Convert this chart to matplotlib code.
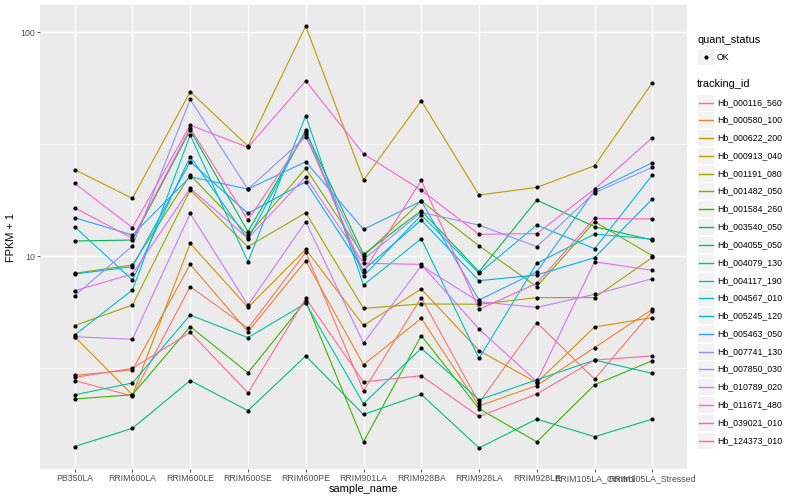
import numpy as np
import matplotlib
matplotlib.use('Agg')
import matplotlib.pyplot as plt
from matplotlib.lines import Line2D
from matplotlib.patches import Rectangle

SAMPLES = ['PB350LA', 'RRIM600LA', 'RRIM600LE', 'RRIM600SE', 'RRIM600PE', 'RRIM901LA',
           'RRIM928BA', 'RRIM928LA', 'RRIM928LE', 'RRIM105LA_Control', 'RRIM105LA_Stressed']

TRACKING_IDS = ['Hb_000116_560', 'Hb_000580_100', 'Hb_000622_200', 'Hb_000913_040', 'Hb_001191_080',
                'Hb_001482_050', 'Hb_001584_260', 'Hb_003540_050', 'Hb_004055_050', 'Hb_004079_130',
                'Hb_004117_190', 'Hb_004567_010', 'Hb_005245_120', 'Hb_005463_050', 'Hb_007741_130',
                'Hb_007850_030', 'Hb_010789_020', 'Hb_011671_480', 'Hb_039021_010', 'Hb_124373_010']

# FPKM + 1, one list per gene, in SAMPLES order
hb_000116_560 = [2.78, 2.37, 7.30, 4.76, 10.38, 2.50, 6.52, 2.21, 5.04, 2.82, 5.68]
hb_000580_100 = [2.93, 3.10, 9.18, 4.59, 9.53, 3.27, 5.27, 2.14, 2.64, 3.90, 5.78]
hb_000622_200 = [4.36, 2.40, 11.39, 5.90, 10.71, 4.90, 7.12, 3.78, 2.72, 4.82, 5.31]
hb_000913_040 = [24.30, 18.09, 54.15, 30.98, 106.4, 21.84, 49.36, 18.72, 20.26, 25.31, 59.39]
hb_001191_080 = [4.89, 6.04, 19.70, 11.01, 15.61, 5.84, 6.11, 6.09, 6.52, 6.52, 9.86]
hb_001482_050 = [8.37, 9.12, 22.99, 12.41, 24.62, 10.00, 17.60, 11.12, 7.30, 14.23, 10.03]
hb_001584_260 = [2.30, 2.40, 4.84, 3.01, 6.30, 1.48, 4.41, 2.08, 1.48, 2.66, 3.41]
hb_003540_050 = [11.67, 11.79, 36.52, 12.84, 35.90, 10.17, 15.94, 8.51, 17.78, 13.52, 11.79]
hb_004055_050 = [1.41, 1.70, 2.78, 2.04, 3.58, 1.96, 2.41, 1.39, 1.87, 1.56, 1.87]
hb_004079_130 = [2.40, 2.71, 5.45, 4.32, 6.15, 2.19, 3.87, 2.28, 2.80, 3.43, 2.99]
hb_004117_190 = [4.44, 7.05, 34.69, 9.43, 42.32, 7.42, 11.95, 3.49, 9.28, 12.53, 11.91]
hb_004567_010 = [13.52, 7.81, 27.77, 11.87, 36.64, 8.14, 15.24, 8.37, 13.75, 10.78, 22.99]
hb_005245_120 = [8.31, 8.96, 26.37, 15.50, 21.47, 8.66, 14.48, 7.76, 8.23, 9.83, 17.97]
hb_005463_050 = [14.83, 12.41, 22.61, 19.90, 26.37, 13.15, 17.60, 6.36, 8.51, 19.57, 26.10]
hb_007741_130 = [6.65, 11.08, 50.04, 19.90, 34.10, 9.66, 15.66, 13.75, 11.01, 19.18, 24.88]
hb_007850_030 = [4.36, 4.25, 15.50, 6.04, 14.23, 4.08, 9.05, 6.25, 5.90, 6.74, 7.92]
hb_010789_020 = [7.00, 8.31, 20.05, 11.99, 22.61, 9.28, 9.18, 4.72, 2.75, 9.43, 8.63]
hb_011671_480 = [21.1, 13.4, 38.4, 30.6, 60.6, 28.6, 19.7, 12.5, 12.6, 19.9, 33.8]
hb_039021_010 = [16.44, 11.99, 37.15, 14.48, 35.04, 8.51, 21.77, 5.78, 7.55, 14.73, 14.63]
hb_124373_010 = [2.87, 3.15, 4.56, 2.45, 6.47, 2.74, 2.92, 1.92, 2.42, 3.43, 3.58]

SERIES = [hb_000116_560, hb_000580_100, hb_000622_200, hb_000913_040, hb_001191_080,
          hb_001482_050, hb_001584_260, hb_003540_050, hb_004055_050, hb_004079_130,
          hb_004117_190, hb_004567_010, hb_005245_120, hb_005463_050, hb_007741_130,
          hb_007850_030, hb_010789_020, hb_011671_480, hb_039021_010, hb_124373_010]

W, H = 800, 500


def hcl_hex(h, c=100., l=65.):
   # polar LUV -> sRGB, like R's hcl()
   xn, yn, zn = 95.047, 100.0, 108.883
   un = 4 * xn / (xn + 15 * yn + 3 * zn)
   vn = 9 * yn / (xn + 15 * yn + 3 * zn)
   u, v = c * np.cos(np.deg2rad(h)), c * np.sin(np.deg2rad(h))
   y = yn * ((l + 16) / 116) ** 3
   up, vp = u / (13 * l) + un, v / (13 * l) + vn
   x = 9 * y * up / (4 * vp)
   z = -x / 3 - 5 * y + 3 * y / vp
   rgb = np.array([3.240479 * x - 1.537150 * y - 0.498535 * z,
                   -0.969256 * x + 1.875992 * y + 0.041556 * z,
                   0.055648 * x - 0.204043 * y + 1.057311 * z]) / yn
   rgb = np.where(rgb > 0.00304, 1.055 * np.abs(rgb) ** (1 / 2.4) - 0.055, 12.92 * rgb)
   return tuple(np.clip(rgb, 0, 1))


def px(x, y):
   return x / W, 1 - y / H


def main():
   plt.rcParams['font.family'] = ['Liberation Sans', 'DejaVu Sans']
   n = len(TRACKING_IDS)
   cols = [hcl_hex(h) for h in np.linspace(15, 375 - 360 / n, n)]

   fig = plt.figure(figsize=(W / 100, H / 100), dpi=100)
   ax = fig.add_axes([40 / W, 1 - 469 / H, 647 / W, 464 / H])
   ax.set_facecolor('#EBEBEB')
   for s in ax.spines.values():
      s.set_visible(False)

   xs = np.arange(len(SAMPLES))
   for vals, col in zip(SERIES, cols):
      ax.plot(xs, vals, color=col, lw=0.8, zorder=3)
   for vals in SERIES:
      ax.plot(xs, vals, 'o', color='black', ms=3.0, mew=0, zorder=4)

   ax.set_yscale('log')
   allv = np.log10(np.concatenate(SERIES))
   lo, hi = allv.min(), allv.max()
   pad = 0.05 * (hi - lo)
   ax.set_ylim(10 ** (lo - pad), 10 ** (hi + pad))
   ax.set_xlim(-0.6, len(SAMPLES) - 0.4)

   ax.set_xticks(xs, SAMPLES)
   ax.set_yticks([10, 100], ['10', '100'])
   ax.set_yticks([10 ** 0.5, 10 ** 1.5], minor=True)
   ax.yaxis.set_minor_formatter(plt.NullFormatter())
   ax.tick_params(axis='both', which='major', length=2, width=0.6, color='#333333',
                  labelsize=6.3, labelcolor='#4D4D4D', pad=1.6)
   ax.tick_params(axis='y', which='minor', length=0)
   ax.grid(True, which='major', color='white', lw=1.0, zorder=0)
   ax.grid(True, which='minor', axis='y', color='white', lw=0.5, zorder=0)
   ax.set_axisbelow(True)
   ax.set_xlabel('sample_name', fontsize=7.9, labelpad=1)
   ax.set_ylabel('FPKM + 1', fontsize=7.9, labelpad=3)

   # legend: quant_status
   tkw = dict(transform=fig.transFigure, va='center', ha='left')
   fig.text(*px(697, 40), 'quant_status', fontsize=7.9, **tkw)
   fig.patches.append(Rectangle(px(697, 65), 17.3 / W, 17.3 / H, transform=fig.transFigure,
                                facecolor='#F2F2F2', edgecolor='white', lw=0.5))
   fig.lines.append(Line2D([px(705.6, 0)[0]], [px(0, 56.6)[1]], marker='o', color='black',
                           ms=3.0, mew=0, transform=fig.transFigure))
   fig.text(*px(717, 57), 'OK', fontsize=6.3, **tkw)

   # legend: tracking_id
   fig.text(*px(697, 84), 'tracking_id', fontsize=7.9, **tkw)
   for i, (name, col) in enumerate(zip(TRACKING_IDS, cols)):
      yc = round(101.5 + i * 17.8) + 0.5
      fig.patches.append(Rectangle(px(697, yc + 8.6), 17.3 / W, 17.3 / H, transform=fig.transFigure,
                                   facecolor='#F2F2F2', edgecolor='white', lw=0.5))
      fig.lines.append(Line2D([px(699, 0)[0], px(712.5, 0)[0]], [px(0, yc)[1]] * 2, color=col,
                              lw=1.0, transform=fig.transFigure, zorder=5))
      fig.text(*px(717, yc), name, fontsize=6.3, **tkw)

   plt.savefig('out.png', dpi=100)
   plt.close()


if __name__ == '__main__':
   main()
